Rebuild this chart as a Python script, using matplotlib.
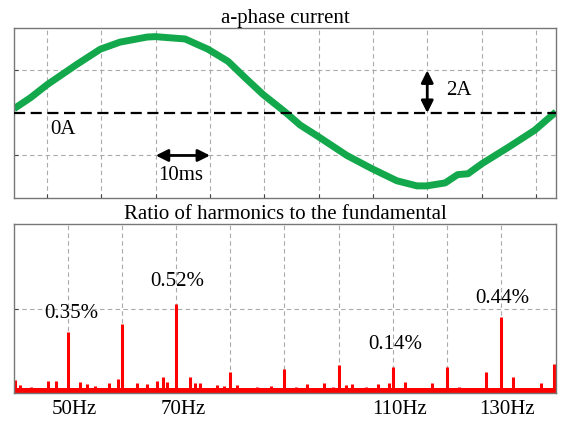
import matplotlib
matplotlib.use("Agg")
import matplotlib.pyplot as plt

plt.rcParams['font.family'] = ['Liberation Serif', 'DejaVu Serif']

# a-phase current (time in ms, current in A)
t_ms = [-6.1, -3.1, 0.0, 5.5, 9.8, 13.4, 18.4, 19.9, 25.4, 29.6, 33.3, 36.4,
        39.8, 43.8, 46.6, 50.1, 55.2, 59.8, 64.4, 68.1, 69.9, 73.3, 75.6,
        77.5, 80.1, 84.9, 89.8, 93.7]
i_a = [0.2, 0.71, 1.33, 2.29, 3.0, 3.33, 3.57, 3.59, 3.48, 3.0, 2.43, 1.67,
       0.86, 0.05, -0.57, -1.14, -2.0, -2.62, -3.19, -3.43, -3.43, -3.29, -2.9,
       -2.86, -2.38, -1.62, -0.81, 0.05]

# harmonic spectrum (Hz, % of fundamental)
harm_f = [40.2, 41.1, 43.1, 46.3, 47.7, 50.0, 52.2, 53.5, 54.9, 57.5, 59.2,
          60.0, 62.7, 64.5, 66.4, 67.5, 68.3, 70.0, 72.5, 73.4, 74.3, 77.5,
          78.9, 80.0, 81.3, 85.0, 87.6, 90.0, 92.2, 94.2, 97.4, 98.9, 100.0,
          101.4, 102.4, 105.1, 107.3, 109.4, 110.0, 112.3, 117.3, 120.0, 122.3,
          127.3, 130.0, 132.3, 137.4, 139.8]
harm_pct = [0.077, 0.047, 0.037, 0.073, 0.073, 0.36, 0.065, 0.053, 0.04,
            0.059, 0.083, 0.41, 0.059, 0.055, 0.073, 0.097, 0.067, 0.53,
            0.097, 0.059, 0.059, 0.047, 0.04, 0.126, 0.047, 0.037, 0.04, 0.14,
            0.037, 0.055, 0.059, 0.037, 0.166, 0.047, 0.055, 0.033, 0.055,
            0.059, 0.156, 0.067, 0.059, 0.156, 0.037, 0.126, 0.45, 0.097,
            0.059, 0.17]
labels = {50: "0.35%", 70: "0.52%", 110: "0.14%", 130: "0.44%"}
label_pos = {50: (50.5, 0.47), 70: (70.2, 0.66), 110: (110.5, 0.29), 130: (130.2, 0.56)}
tick_f = [50, 70, 110, 130]

fig = plt.figure(figsize=(5.61, 4.21), dpi=100)
ax1 = fig.add_axes([0.025, 0.5297, 0.966, 0.404])
ax2 = fig.add_axes([0.025, 0.0665, 0.966, 0.401])

grid_kw = dict(color='#aaaaaa', lw=0.8, ls=(0, (4, 3)))

# top: current waveform
ax1.plot(t_ms, i_a, color='#12a84b', lw=5, solid_capstyle='butt',
         solid_joinstyle='round', zorder=2)
ax1.axhline(0, color='black', lw=1.6, dashes=(5, 2.5), zorder=3)
ax1.set_xlim(-6.1, 93.7)
ax1.set_ylim(-4, 4)
ax1.set_xticks(range(0, 100, 10))
ax1.set_yticks([-2, 2])
ax1.grid(True, **grid_kw)
ax1.tick_params(direction='in', length=3, labelbottom=False, labelleft=False,
                color='#444444')
ax1.set_title("a-phase current", fontsize=15, pad=2)
ax1.annotate("", xy=(20, -2), xytext=(30, -2),
             arrowprops=dict(arrowstyle='<|-|>', color='black', lw=2,
                             mutation_scale=18, shrinkA=0, shrinkB=0))
ax1.annotate("", xy=(70, 0), xytext=(70, 2),
             arrowprops=dict(arrowstyle='<|-|>', color='black', lw=2,
                             mutation_scale=18, shrinkA=0, shrinkB=0))
ax1.text(24.5, -2.95, "10ms", fontsize=15, ha='center', va='center')
ax1.text(73.5, 1.05, "2A", fontsize=15, ha='left', va='center')
ax1.text(3.0, -0.8, "0A", fontsize=15, ha='center', va='center')

# bottom: harmonic ratio
ax2.fill_between([40, 140], 0, 0.03, color='red', lw=0, zorder=2)
ax2.vlines(harm_f, 0, harm_pct, color='red', lw=2.2, zorder=2)
ax2.set_xlim(40, 140.2)
ax2.set_ylim(0, 1)
ax2.set_xticks(range(50, 140, 10))
ax2.set_yticks([0.5])
ax2.grid(True, **grid_kw)
ax2.tick_params(direction='in', length=3, labelbottom=False, labelleft=False,
                color='#444444')
ax2.set_title("Ratio of harmonics to the fundamental", fontsize=15, pad=2)
for f, s in labels.items():
    x, y = label_pos[f]
    ax2.text(x, y, s, fontsize=15, ha='center', va='center')
for f in tick_f:
    ax2.text(f + 1.2, -0.1, f"{f}Hz", fontsize=15, ha='center', va='center')

for ax in (ax1, ax2):
    for sp in ax.spines.values():
        sp.set_color('#777777')
        sp.set_linewidth(1.0)

fig.savefig("out.png", dpi=100)
